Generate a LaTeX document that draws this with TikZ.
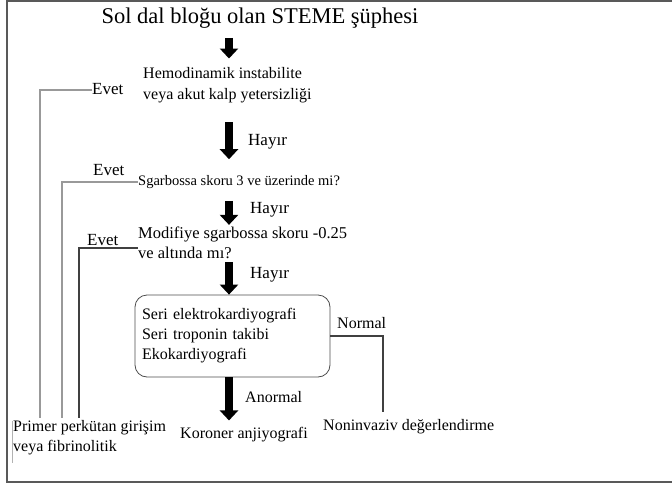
\documentclass[tikz,border=0pt]{standalone}
\usepackage{fontspec}
\setmainfont{Liberation Serif}
\usetikzlibrary{arrows.meta,positioning}

\begin{document}
\begin{tikzpicture}[
  x=1pt, y=-1pt,
  font=\fontsize{16}{21}\selectfont,
  txt/.style={inner sep=0pt, align=left, anchor=west},
  lbl/.style={inner sep=0pt, anchor=west},
  fat/.style={-{Triangle[length=10pt,width=18pt]}, line width=8pt},
  link/.style={draw=black!40, line width=1.4pt},
  darklink/.style={draw=black!75, line width=1.3pt}
]
\useasboundingbox (0,0) rectangle (672,485);
\draw[black!65, line width=2pt] (673,1) -- (7,1) -- (7,482) -- (673,482);

% questions
\node[inner sep=0pt, font=\fontsize{22.5}{26}\selectfont] (title) at (260,18) {Sol dal bloğu olan STEME şüphesi};
\node[txt] (hemo) at (143,85.5) {Hemodinamik instabilite\\veya akut kalp yetersizliği};
\node[txt, font=\fontsize{14.5}{17}\selectfont] (sgar) at (138,182) {Sgarbossa skoru 3 ve üzerinde mi?};
\node[txt, font=\fontsize{16.5}{20}\selectfont] (mod) at (138,243) {Modifiye sgarbossa skoru -0.25\\ve altında mı?};
\node[draw=black!70, line width=0.8pt, rounded corners=12pt, minimum width=195pt, minimum height=82pt,
  text width=181pt, inner sep=7pt, align=left, font=\fontsize{16}{20}\selectfont] (tests) at (232.5,336)
  {Seri elektrokardiyografi\\Seri troponin takibi\\Ekokardiyografi};

% outcomes
\node[txt, font=\fontsize{16}{20}\selectfont] (pci) at (13,438) {Primer perkütan girişim\\veya fibrinolitik};
\node[txt] (cag) at (180,435) {Koroner anjiyografi};
\node[txt] (nid) at (323,427) {Noninvaziv değerlendirme};

% labels
\node[lbl, font=\fontsize{17}{20}\selectfont] (e1) at (92,89) {Evet};
\node[lbl, font=\fontsize{17}{20}\selectfont] (e2) at (93,170) {Evet};
\node[lbl, font=\fontsize{17}{20}\selectfont] (e3) at (87,240) {Evet};
\node[lbl, font=\fontsize{17}{20}\selectfont] (h1) at (248,142) {Hayır};
\node[lbl, font=\fontsize{17}{20}\selectfont] (h2) at (250,210) {Hayır};
\node[lbl, font=\fontsize{17}{20}\selectfont] (h3) at (250,275) {Hayır};
\node[lbl] (nor) at (337,323) {Normal};
\node[lbl] (anor) at (245,397) {Anormal};

\coordinate (ax) at (229,0);
\coordinate (d1) at (40,418);
\coordinate (d2) at (62,418);
\coordinate (d3) at (79,418);
\coordinate (dn) at (383,412);

\draw[fat, shorten <=9.5pt, shorten >=9pt] (title.south -| ax) -- (hemo.north -| ax);
\draw[fat, shorten <=19pt, shorten >=16pt] (hemo.south -| ax) -- (sgar.north -| ax);
\draw[fat, shorten <=12pt, shorten >=2pt] (sgar.south -| ax) -- (mod.north -| ax);
\draw[fat, shorten <=3pt] (mod.south -| ax) -- (tests.north -| ax);
\draw[fat, shorten >=7pt] (tests.south -| ax) -- (cag.north -| ax);

\draw[link] ([yshift=-1pt]e1.west) -| (d1);
\draw[link] (sgar.west) -| (d2);
\draw[darklink] ([yshift=-5pt]mod.west) -| (d3);
\draw[darklink] (tests.east) -| (dn);
\draw[black!30, line width=0.8pt] ([xshift=-1pt]pci.north west) -- ([xshift=-1pt,yshift=-8pt]pci.south west);
\end{tikzpicture}
\end{document}
